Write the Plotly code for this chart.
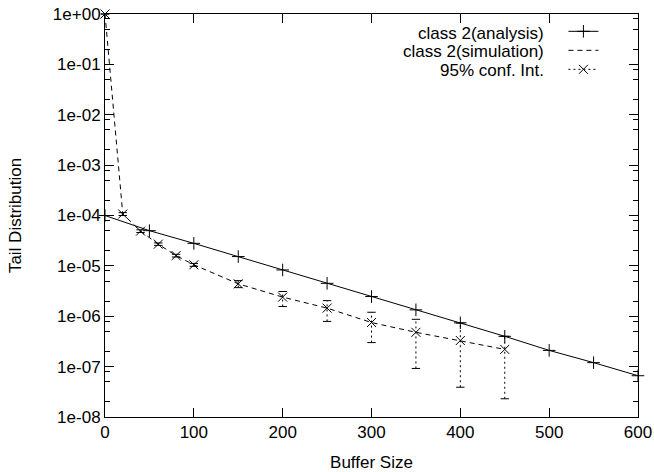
import plotly.graph_objects as go

# ---- data ----
analysis_x = [0, 50, 100, 150, 200, 250, 300, 350, 400, 450, 500, 550, 600]
analysis_y = [1.0e-4, 5.0e-5, 2.8e-5, 1.53e-5, 8.3e-6, 4.5e-6, 2.46e-6,
              1.34e-6, 7.4e-7, 4.0e-7, 2.1e-7, 1.2e-7, 6.6e-8]

sim_x = [0, 20, 40, 60, 80, 100, 150, 200, 250, 300, 350, 400, 450]
sim_y = [1.0, 1.07e-4, 4.9e-5, 2.7e-5, 1.6e-5, 1.05e-5, 4.4e-6,
         2.4e-6, 1.45e-6, 7.5e-7, 4.8e-7, 3.3e-7, 2.2e-7]
ci_lo = [1.0, 1.0e-4, 4.6e-5, 2.55e-5, 1.5e-5, 9.8e-6, 3.7e-6,
         1.56e-6, 7.9e-7, 3.0e-7, 9.2e-8, 3.9e-8, 2.3e-8]
ci_hi = [1.0, 1.14e-4, 5.2e-5, 2.85e-5, 1.7e-5, 1.12e-5, 5.1e-6,
         3.1e-6, 2.04e-6, 1.2e-6, 8.7e-7, 7.3e-7, 4.0e-7]

x_ticks = [0, 100, 200, 300, 400, 500, 600]
y_tick_exps = [0, -1, -2, -3, -4, -5, -6, -7, -8]
y_tick_text = ["1e+00", "1e-01", "1e-02", "1e-03", "1e-04",
               "1e-05", "1e-06", "1e-07", "1e-08"]
legend_names = ["class 2(analysis)", "class 2(simulation)", "95% conf. Int."]

FONT = "Liberation Sans, Arial, Helvetica, sans-serif"
FS = 17

y_tick_vals = [10.0 ** e for e in y_tick_exps]
y_minor_vals = [m * 10.0 ** e for e in y_tick_exps[1:] for m in (2, 5, 8)]

# error-bar segments built from the CI arrays
eb_x, eb_y = [], []
for xv, lo, hi in zip(sim_x, ci_lo, ci_hi):
    eb_x += [xv, xv, None]
    eb_y += [lo, hi, None]

fig = go.Figure()

fig.add_trace(go.Scatter(
    x=analysis_x, y=analysis_y, mode="lines+markers", name=" ",
    line=dict(color="black", width=1),
    marker=dict(symbol="cross-thin-open", size=9, color="black",
                line=dict(color="black", width=1)),
    cliponaxis=False))

fig.add_trace(go.Scatter(
    x=sim_x, y=sim_y, mode="lines", name=" ",
    line=dict(color="black", width=1, dash="5px,4px"), cliponaxis=False))

fig.add_trace(go.Scatter(
    x=eb_x, y=eb_y, mode="lines+markers", showlegend=False,
    line=dict(color="black", width=1, dash="2px,3px"),
    marker=dict(symbol="line-ew-open", size=6, color="black",
                line=dict(color="black", width=1)),
    cliponaxis=False))

fig.add_trace(go.Scatter(
    x=sim_x, y=sim_y, mode="markers", showlegend=False,
    marker=dict(symbol="x-thin-open", size=9, color="black",
                line=dict(color="black", width=1)),
    cliponaxis=False))

# legend-only sample for the confidence interval
fig.add_trace(go.Scatter(
    x=[None], y=[None], mode="lines+markers", name=" ",
    line=dict(color="black", width=1, dash="2px,3px"),
    marker=dict(symbol="x-thin-open", size=9, color="black",
                line=dict(color="black", width=1))))

axis_common = dict(
    showline=True, linecolor="black", linewidth=1, mirror="ticks",
    ticks="inside", ticklen=9, tickwidth=1, tickcolor="black",
    showgrid=False, zeroline=False, automargin=False,
    tickfont=dict(family=FONT, size=FS, color="black"),
)

fig.update_xaxes(
    range=[0, 600], tickmode="array", tickvals=x_ticks,
    title=dict(text="Buffer Size", font=dict(family=FONT, size=FS, color="black"), standoff=15),
    **axis_common)

fig.update_yaxes(
    type="log", range=[-8, 0], tickmode="array", tickvals=y_tick_vals, ticktext=y_tick_text,
    minor=dict(tickmode="array", tickvals=y_minor_vals, ticks="inside", ticklen=5,
               tickcolor="black", tickwidth=1, showgrid=False),
    title=dict(text="Tail Distribution", font=dict(family=FONT, size=FS, color="black"), standoff=26),
    **axis_common)

# legend text, right-aligned like the original key
for i, name in enumerate(legend_names):
    fig.add_annotation(
        xref="paper", yref="paper", x=0.828, y=0.952 - i * 0.0455,
        xanchor="right", yanchor="middle", showarrow=False, text=name,
        font=dict(family=FONT, size=FS, color="black"))

fig.update_layout(
    width=654, height=472,
    margin=dict(l=105, r=16, t=14, b=55),
    paper_bgcolor="white", plot_bgcolor="white",
    font=dict(family=FONT, size=FS, color="black"),
    legend=dict(x=0.952, y=0.993, xanchor="right", yanchor="top",
                bgcolor="rgba(0,0,0,0)", font=dict(family=FONT, size=12),
                tracegroupgap=0, itemwidth=30),
    showlegend=True,
)

fig.write_html("out.html")
